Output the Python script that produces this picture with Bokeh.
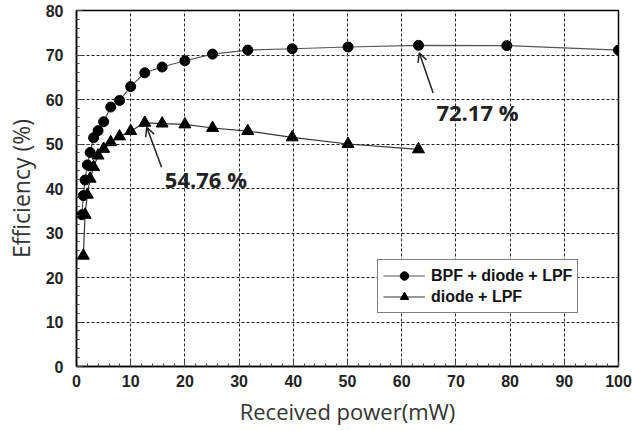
from bokeh.plotting import figure
from bokeh.models import (Range1d, SingleIntervalTicker, Legend, LegendItem,
                          Label, Arrow, OpenHead, Grid)
from bokeh.embed import file_html
from bokeh.resources import INLINE

# Received power (mW) and efficiency (%)
bpf_power = [1.0, 1.26, 1.58, 2.0, 2.51, 3.16, 3.98, 5.01, 6.31, 7.94, 10.0,
             12.6, 15.8, 20.0, 25.1, 31.6, 39.8, 50.1, 63.1, 79.4, 100.0]
bpf_eff = [34.1, 38.4, 41.9, 45.3, 48.1, 51.4, 53.0, 55.0, 58.3, 59.8, 62.9,
           66.0, 67.3, 68.7, 70.2, 71.1, 71.4, 71.8, 72.17, 72.1, 71.1]

diode_power = [1.26, 1.58, 2.0, 2.51, 3.16, 3.98, 5.01, 6.31, 7.94, 10.0,
               12.6, 15.8, 20.0, 25.1, 31.6, 39.8, 50.1, 63.1]
diode_eff = [24.9, 34.1, 38.6, 42.2, 44.8, 47.4, 48.9, 50.4, 51.7, 52.9,
             54.76, 54.6, 54.4, 53.6, 52.9, 51.5, 50.0, 48.8]

series_labels = ["BPF + diode + LPF", "diode + LPF"]
x_title = "Received power(mW)"
y_title = "Efficiency (%)"

peak1_idx = bpf_eff.index(max(bpf_eff))
peak2_idx = diode_eff.index(max(diode_eff))
peak1 = (bpf_power[peak1_idx], bpf_eff[peak1_idx])
peak2 = (diode_power[peak2_idx], diode_eff[peak2_idx])

p = figure(width=632, height=430, output_backend="svg", toolbar_location=None,
           x_range=Range1d(0, 100), y_range=Range1d(0, 80),
           min_border_left=76, min_border_right=14, min_border_top=10,
           min_border_bottom=64)
p.background_fill_color = "white"
p.border_fill_color = "white"
p.outline_line_color = "black"
p.outline_line_width = 1.5

xticker = SingleIntervalTicker(interval=10, num_minor_ticks=5)
yticker = SingleIntervalTicker(interval=10, num_minor_ticks=5)
p.xaxis.ticker = xticker
p.yaxis.ticker = yticker

for ax in (p.xaxis[0], p.yaxis[0]):
    ax.axis_line_color = "black"
    ax.axis_line_width = 1.5
    ax.major_tick_in = 6
    ax.major_tick_out = 0
    ax.minor_tick_in = 3
    ax.minor_tick_out = 0
    ax.major_tick_line_color = "#444"
    ax.minor_tick_line_color = "#444"
    ax.major_label_text_font = "Liberation Sans"
    ax.major_label_text_font_style = "bold"
    ax.major_label_text_font_size = "16px"
    ax.major_label_text_color = "#222"
    ax.axis_label_text_font = "Open Sans"
    ax.axis_label_text_font_style = "normal"
    ax.axis_label_text_color = "#333"

p.xaxis.axis_label = x_title
p.yaxis.axis_label = y_title
p.xaxis.axis_label_text_font_size = "22px"
p.yaxis.axis_label_text_font_size = "23px"
p.xaxis.major_label_standoff = 8
p.yaxis.major_label_standoff = 13
p.xaxis.axis_label_standoff = 6
p.yaxis.axis_label_standoff = 6

# dashed grid
for g in list(p.center):
    if isinstance(g, Grid):
        p.center.remove(g)
gx = Grid(dimension=0, ticker=xticker, grid_line_color="#222",
          grid_line_dash="3 2", grid_line_width=1, level="glyph")
gy = Grid(dimension=1, ticker=yticker, grid_line_color="#222",
          grid_line_dash="3 2", grid_line_width=1, level="glyph")
p.add_layout(gx, "center")
p.add_layout(gy, "center")

l1 = p.line(bpf_power, bpf_eff, line_color="#555", line_width=1.2)
s1 = p.scatter(bpf_power, bpf_eff, marker="circle", size=10, color="black")
l2 = p.line(diode_power, diode_eff, line_color="#333", line_width=1.2)
s2 = p.scatter(diode_power, diode_eff, marker="triangle", size=12, color="black")

legend = Legend(items=[LegendItem(label=series_labels[0], renderers=[l1, s1]),
                       LegendItem(label=series_labels[1], renderers=[l2, s2])],
                location=(301, 53))
legend.border_line_color = "black"
legend.border_line_width = 1
legend.background_fill_alpha = 1
legend.padding = 5
legend.spacing = 0
legend.margin = 0
legend.glyph_width = 42
legend.glyph_height = 21
legend.label_height = 21
legend.label_standoff = 6
legend.label_text_font = "Liberation Sans"
legend.label_text_font_style = "bold"
legend.label_text_font_size = "16px"
legend.label_text_color = "#111"
p.add_layout(legend)

# peak annotations
for (px, py), head_d, tail_d, lab_d in [
        (peak1, (0.15, -1.7), (2.7, -10.7), (3.3, -14.9)),
        (peak2, (0.36, -1.0), (3.1, -10.0), (3.7, -12.6))]:
    p.add_layout(Arrow(end=OpenHead(size=9, line_width=1.5, line_color="#222"),
                       x_start=px + tail_d[0], y_start=py + tail_d[1],
                       x_end=px + head_d[0], y_end=py + head_d[1],
                       line_width=1.5, line_color="#222"))
    p.add_layout(Label(x=px + lab_d[0], y=py + lab_d[1],
                       text=f"{py:.2f} %", text_font="Open Sans",
                       text_font_style="bold", text_font_size="22px",
                       text_color="#222", text_align="left",
                       text_baseline="middle"))

open("out.html", "w").write(file_html(p, INLINE))
